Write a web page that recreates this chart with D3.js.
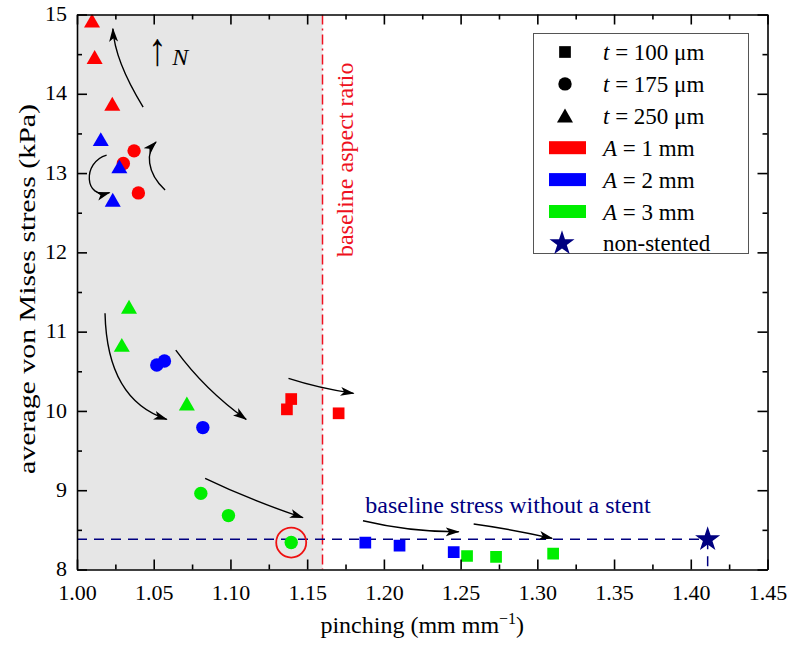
<!DOCTYPE html>
<html><head><meta charset="utf-8">
<script src="https://cdn.jsdelivr.net/npm/d3@7"></script>
<style>
body{margin:0;background:#fff}
text{font-family:"Liberation Serif","Times New Roman",serif;}
</style>
</head><body><svg id="c" width="790" height="645"></svg>
<script>
// ---------- data ----------
const xTicks = [1.00,1.05,1.10,1.15,1.20,1.25,1.30,1.35,1.40,1.45];
const xMinor = [1.025,1.075,1.125,1.175,1.225,1.275,1.325,1.375,1.425];
const yTicks = [8,9,10,11,12,13,14,15];
const yMinor = [8.5,9.5,10.5,11.5,12.5,13.5,14.5];

// [pinching, stress] for each (A, t) combination
const A1_t100 = [[1.1396,10.15],[1.1368,10.02],[1.1705,9.97]];
const A1_t175 = [[1.0372,13.28],[1.0302,13.12],[1.0400,12.75]];
const A1_t250 = [[1.0098,14.92],[1.0115,14.46],[1.0230,13.87]];
const A2_t100 = [[1.1879,8.34],[1.2102,8.30],[1.2455,8.22]];
const A2_t175 = [[1.0520,10.58],[1.0570,10.63],[1.0820,9.79]];
const A2_t250 = [[1.0155,13.425],[1.0276,13.08],[1.0233,12.66]];
const A3_t100 = [[1.2542,8.17],[1.2731,8.16],[1.3103,8.20]];
const A3_t175 = [[1.0807,8.96],[1.0987,8.68],[1.1396,8.34]];
const A3_t250 = [[1.0339,11.31],[1.0292,10.83],[1.0716,10.09]];
const nonStented = [1.411, 8.38];
const baselineStress = 8.38;
const baselineAspect = 1.16;
const shadedRange = [1.00, 1.16];
const highlighted = [1.1396, 8.34];

const thicknessLabels = ["100","175","250"];
const amplitudeLabels = ["1","2","3"];

// arrow guides (data coordinates; 3 pts = quadratic, 4 pts = cubic)
const arrows = [
  [[1.0431,13.832],[1.0245,14.42],[1.0234,14.82]],
  [[1.0193,13.227],[1.0033,13.139],[1.0046,12.659],[1.0212,12.754]],
  [[1.0574,12.786],[1.0450,13.013],[1.0450,13.265],[1.0515,13.391]],
  [[1.01826,11.2307],[1.01957,10.1374],[1.05851,9.894]],
  [[1.06438,10.7679],[1.0835,10.2635],[1.11024,9.894]],
  [[1.0835,9.150],[1.11285,8.8764],[1.14723,8.6532]],
  [[1.13783,10.411],[1.15721,10.2894],[1.18023,10.222]],
  [[1.18637,8.6154],[1.21722,8.4729],[1.24873,8.4767]],
  [[1.25851,8.5738],[1.28245,8.5107],[1.30966,8.3934]]
];
const upArrowPos = [1.0462, 14.362];
const nLabelPos = [1.0620, 14.362];
const stressLabelPos = [1.1879, 8.712];
const aspectLabelPos = [1.180, 11.94];

// ---------- drawing ----------
const svg = d3.select("#c");
const x = d3.scaleLinear().domain([1.00,1.45]).range([77,767.5]);
const y = d3.scaleLinear().domain([8,15]).range([569.5,14.5]);
const RED="#ff0000", BLUE="#0000ff", GREEN="#00ee00", NAVY="#000080";
const FS = 22;

svg.append("rect").attr("x",x(shadedRange[0])).attr("y",y(15))
  .attr("width",x(shadedRange[1])-x(shadedRange[0])).attr("height",y(8)-y(15))
  .attr("fill","#e6e6e6");

const defs = svg.append("defs");
defs.append("marker").attr("id","ah").attr("markerUnits","userSpaceOnUse")
  .attr("viewBox","0 -5 14 10").attr("refX",13).attr("refY",0)
  .attr("markerWidth",14).attr("markerHeight",10).attr("orient","auto")
  .append("path").attr("d","M0,-4.5L14,0L0,4.5L3.5,0Z").attr("fill","#000");
defs.append("clipPath").attr("id","clip").append("rect")
  .attr("x",x(1)).attr("y",y(15)).attr("width",x(1.45)-x(1)).attr("height",y(8)-y(15));

const plot = svg.append("g").attr("clip-path","url(#clip)");

// baseline aspect ratio line
plot.append("line").attr("x1",x(baselineAspect)).attr("x2",x(baselineAspect))
  .attr("y1",y(15)).attr("y2",y(8)).attr("stroke","#ee1020").attr("stroke-width",1.5)
  .attr("stroke-dasharray","10,4,2,4");

// baseline stress line
plot.append("line").attr("x1",x(1)).attr("x2",x(nonStented[0]))
  .attr("y1",y(baselineStress)).attr("y2",y(baselineStress))
  .attr("stroke",NAVY).attr("stroke-width",1.5).attr("stroke-dasharray","10,7");
plot.append("line").attr("x1",x(nonStented[0])).attr("x2",x(nonStented[0]))
  .attr("y1",y(nonStented[1])).attr("y2",y(8))
  .attr("stroke",NAVY).attr("stroke-width",1.5).attr("stroke-dasharray","10,7");

const sym = {
  sq: d3.symbol(d3.symbolSquare).size(137)(),
  ci: d3.symbol(d3.symbolCircle).size(141)(),
  tr: d3.symbol(d3.symbolTriangle).size(111)()
};
function drawPts(data, shape, color){
  plot.selectAll(null).data(data).enter().append("path")
    .attr("d", sym[shape])
    .attr("transform", d => `translate(${x(d[0])},${y(d[1])})` + (shape==="tr"?" translate(0,2)":""))
    .attr("fill", color);
}
drawPts(A1_t175,"ci",RED); drawPts(A2_t175,"ci",BLUE); drawPts(A3_t175,"ci",GREEN);
drawPts(A1_t100,"sq",RED); drawPts(A2_t100,"sq",BLUE); drawPts(A3_t100,"sq",GREEN);
drawPts(A1_t250,"tr",RED); drawPts(A2_t250,"tr",BLUE); drawPts(A3_t250,"tr",GREEN);

// highlight ring
plot.append("circle").attr("cx",x(highlighted[0])).attr("cy",y(highlighted[1])).attr("r",15)
  .attr("fill","none").attr("stroke","#ee1111").attr("stroke-width",1.8);

// star
plot.append("path").attr("d", d3.symbol(d3.symbolStar).size(195)())
  .attr("transform",`translate(${x(nonStented[0])},${y(nonStented[1])})`).attr("fill",NAVY);

// arrows
arrows.forEach(a=>{
  const p = a.map(d=>[x(d[0]),y(d[1])]);
  const dstr = p.length===3 ? `M${p[0]}Q${p[1]} ${p[2]}` : `M${p[0]}C${p[1]} ${p[2]} ${p[3]}`;
  plot.append("path").attr("d",dstr).attr("fill","none").attr("stroke","#000")
    .attr("stroke-width",1.4).attr("marker-end","url(#ah)");
});

// annotations
svg.append("text").attr("transform",`translate(${x(upArrowPos[0])},${y(upArrowPos[1])}) scale(0.8,1)`)
  .attr("font-size",46).attr("font-family","'DejaVu Serif',serif").attr("fill","#000").text("↑");
svg.append("text").attr("x",x(nLabelPos[0])).attr("y",y(nLabelPos[1]))
  .attr("font-size",24).attr("font-style","italic").attr("fill","#000").text("N");

svg.append("text").attr("x",x(stressLabelPos[0])).attr("y",y(stressLabelPos[1]))
  .attr("font-size",24).attr("fill",NAVY).text("baseline stress without a stent");

svg.append("text").attr("transform",`translate(${x(aspectLabelPos[0])},${y(aspectLabelPos[1])}) rotate(-90)`)
  .attr("font-size",24).attr("fill","#ee1020").text("baseline aspect ratio");

// axes
function style(g){
  g.selectAll("path.domain").attr("stroke","#000").attr("stroke-width",1.6);
  g.selectAll(".tick line").attr("stroke","#000").attr("stroke-width",1.6);
  g.selectAll("text").attr("font-size",FS).attr("fill","#000")
    .attr("font-family",'"Liberation Serif","Times New Roman",serif');
}
svg.append("g").attr("transform",`translate(0,${y(8)})`)
  .call(d3.axisBottom(x).tickValues(xMinor).tickSize(-5).tickFormat("")).call(style)
  .select("path.domain").remove();
svg.append("g").attr("transform",`translate(0,${y(8)})`)
  .call(d3.axisBottom(x).tickValues(xTicks).tickSizeInner(-10).tickSizeOuter(0)
    .tickPadding(15).tickFormat(d3.format(".2f"))).call(style);
svg.append("g").attr("transform",`translate(0,${y(15)})`)
  .call(d3.axisTop(x).tickValues(xMinor).tickSize(-5).tickFormat("")).call(style)
  .select("path.domain").remove();
svg.append("g").attr("transform",`translate(0,${y(15)})`)
  .call(d3.axisTop(x).tickValues(xTicks).tickSizeInner(-10).tickSizeOuter(0).tickFormat("")).call(style);

svg.append("g").attr("transform",`translate(${x(1)},0)`)
  .call(d3.axisLeft(y).tickValues(yMinor).tickSize(-5).tickFormat("")).call(style)
  .select("path.domain").remove();
const yAx = svg.append("g").attr("transform",`translate(${x(1)},0)`)
  .call(d3.axisLeft(y).tickValues(yTicks).tickSizeInner(-10).tickSizeOuter(0)
    .tickPadding(10).tickFormat(d3.format("d"))).call(style);
yAx.selectAll(".tick text").attr("dy","0.28em");
svg.append("g").attr("transform",`translate(${x(1.45)},0)`)
  .call(d3.axisRight(y).tickValues(yMinor).tickSize(-5).tickFormat("")).call(style)
  .select("path.domain").remove();
svg.append("g").attr("transform",`translate(${x(1.45)},0)`)
  .call(d3.axisRight(y).tickValues(yTicks).tickSizeInner(-10).tickSizeOuter(0).tickFormat("")).call(style);

// axis titles
const xl = svg.append("text").attr("x",(x(1)+x(1.45))/2).attr("y",633)
  .attr("text-anchor","middle").attr("font-size",24).attr("fill","#000");
xl.append("tspan").text("pinching (mm mm");
xl.append("tspan").attr("dy",-9).attr("font-size",16).text("−1");
xl.append("tspan").attr("dy",9).text(")");

svg.append("text").attr("transform",`translate(35,${(y(8)+y(15))/2 - 3}) rotate(-90) scale(1.3,1)`)
  .attr("text-anchor","middle").attr("font-size",23).attr("fill","#000")
  .text("average von Mises stress (kPa)");

// legend
const lg = svg.append("g");
lg.append("rect").attr("x",533.5).attr("y",33.5).attr("width",215).attr("height",220)
  .attr("fill","#fff").attr("stroke","#555").attr("stroke-width",1);
const rowY = i => 52 + i*31.9;
const mx = 565, tx = 603;
const LFS = 23;
const shapes = ["sq","ci","tr"];
shapes.forEach((s,i)=>{
  lg.append("path").attr("d",sym[s]).attr("transform",`translate(${mx},${rowY(i)+(s==="tr"?2:0)})`).attr("fill","#000");
  const t = lg.append("text").attr("x",tx).attr("y",rowY(i)).attr("dy","0.35em").attr("font-size",LFS);
  t.append("tspan").attr("font-style","italic").text("t");
  t.append("tspan").text(` = ${thicknessLabels[i]} μm`);
});
[RED,BLUE,GREEN].forEach((c,i)=>{
  const r = rowY(i+3);
  lg.append("rect").attr("x",549).attr("y",r-6.5).attr("width",37).attr("height",13).attr("fill",c);
  const t = lg.append("text").attr("x",tx).attr("y",r).attr("dy","0.35em").attr("font-size",LFS);
  t.append("tspan").attr("font-style","italic").text("A");
  t.append("tspan").text(` = ${amplitudeLabels[i]} mm`);
});
lg.append("path").attr("d", d3.symbol(d3.symbolStar).size(195)())
  .attr("transform",`translate(${mx-3},${rowY(6)})`).attr("fill",NAVY);
lg.append("text").attr("x",tx).attr("y",rowY(6)).attr("dy","0.35em").attr("font-size",LFS).text("non-stented");
</script>
</body></html>
